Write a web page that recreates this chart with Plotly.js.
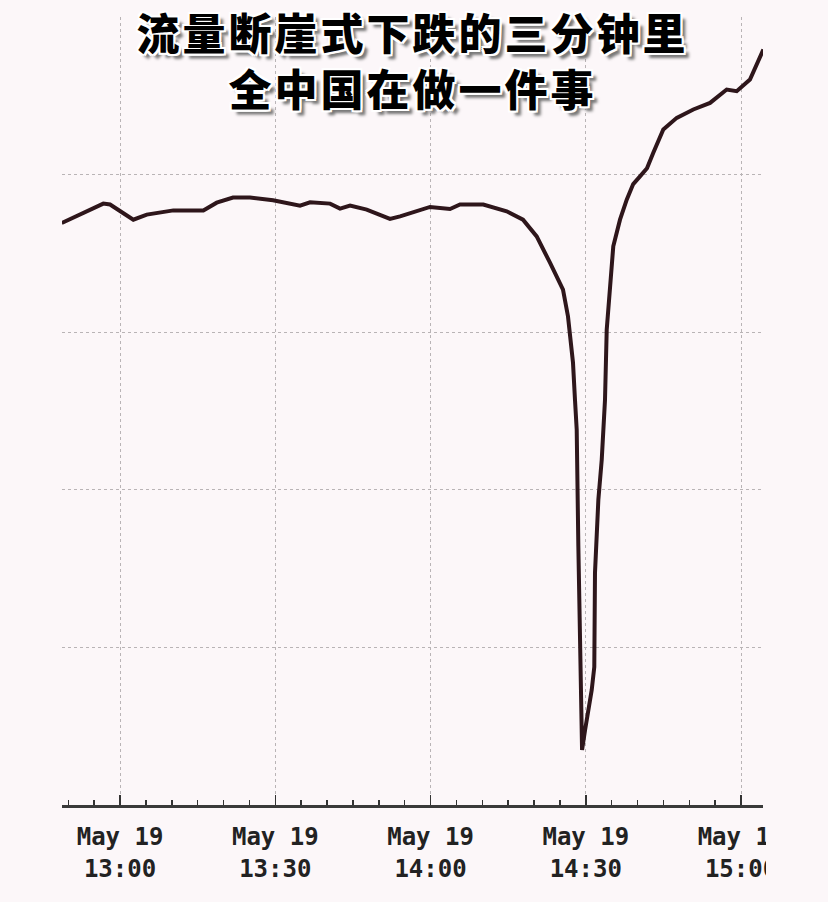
<!DOCTYPE html>
<html>
<head>
<meta charset="utf-8">
<script src="https://cdn.plot.ly/plotly-3.0.1.min.js"></script>
<style>html,body{margin:0;padding:0;background:#fcf7f9;}#chart{width:828px;height:902px;}.gtitle{letter-spacing:3px;}</style>
</head>
<body>
<div id="chart"></div>
<script>
var titleLine1 = "流量断崖式下跌的三分钟里";
var titleLine2 = "全中国在做一件事";

var times = [
  "2008-05-19 12:48:44","2008-05-19 12:52:16","2008-05-19 12:56:46","2008-05-19 12:58:04",
  "2008-05-19 13:02:34","2008-05-19 13:05:10","2008-05-19 13:10:18","2008-05-19 13:16:06",
  "2008-05-19 13:18:41","2008-05-19 13:21:50","2008-05-19 13:25:07","2008-05-19 13:29:34",
  "2008-05-19 13:34:47","2008-05-19 13:36:43","2008-05-19 13:40:35","2008-05-19 13:42:31",
  "2008-05-19 13:44:27","2008-05-19 13:47:40","2008-05-19 13:52:10","2008-05-19 13:54:07",
  "2008-05-19 13:57:20","2008-05-19 13:59:54","2008-05-19 14:03:46","2008-05-19 14:05:42",
  "2008-05-19 14:10:12","2008-05-19 14:14:43","2008-05-19 14:17:52","2008-05-19 14:20:31",
  "2008-05-19 14:23:05","2008-05-19 14:25:36","2008-05-19 14:26:34","2008-05-19 14:27:32",
  "2008-05-19 14:27:55","2008-05-19 14:28:15","2008-05-19 14:28:34","2008-05-19 14:28:53",
  "2008-05-19 14:29:13","2008-05-19 14:29:17","2008-05-19 14:29:52","2008-05-19 14:30:30",
  "2008-05-19 14:31:09","2008-05-19 14:31:39","2008-05-19 14:31:47","2008-05-19 14:32:26",
  "2008-05-19 14:33:05","2008-05-19 14:33:43","2008-05-19 14:34:03","2008-05-19 14:35:19",
  "2008-05-19 14:36:37","2008-05-19 14:37:55","2008-05-19 14:39:10","2008-05-19 14:40:29",
  "2008-05-19 14:41:50","2008-05-19 14:43:03","2008-05-19 14:44:59","2008-05-19 14:47:35",
  "2008-05-19 14:50:47","2008-05-19 14:54:01","2008-05-19 14:57:14","2008-05-19 14:59:10",
  "2008-05-19 15:01:44","2008-05-19 15:04:19"
];
var traffic = [
  3.693,3.746,3.816,3.810,
  3.714,3.746,3.773,3.773,
  3.822,3.854,3.854,3.837,
  3.803,3.824,3.816,3.784,
  3.803,3.778,3.719,3.735,
  3.767,3.795,3.782,3.810,
  3.810,3.767,3.714,3.608,
  3.441,3.270,3.100,2.806,
  2.571,2.381,1.640,1.092,
  0.457,0.349,0.476,0.603,
  0.730,0.876,1.473,1.937,
  2.190,2.571,3.016,3.545,
  3.714,3.841,3.940,3.989,
  4.040,4.138,4.286,4.360,
  4.413,4.455,4.540,4.529,
  4.603,4.794
];

var tickTimes = ["2008-05-19 13:00","2008-05-19 13:30","2008-05-19 14:00","2008-05-19 14:30","2008-05-19 15:00"];
var tickLabels = ["May 19<br>13:00","May 19<br>13:30","May 19<br>14:00","May 19<br>14:30","May 19<br>15:00"];

var bg = "#fcf7f9";
var titleShadow = "2px 2px 0 #fff, -2px -2px 0 #fff, 2px -2px 0 #fff, -2px 2px 0 #fff, 0 2px 0 #fff, 2px 0 0 #fff, -2px 0 0 #fff, 0 -2px 0 #fff, 5px 5px 3px #777";

var trace = {
  x: times, y: traffic, type: "scatter", mode: "lines",
  line: {color: "#2e161b", width: 4, shape: "linear"},
  hoverinfo: "skip"
};

var layout = {
  width: 828, height: 902,
  paper_bgcolor: bg, plot_bgcolor: bg,
  margin: {l: 62, r: 65, t: 17, b: 97},
  showlegend: false,
  title: {
    text: titleLine1 + "<br>" + titleLine2, x: 0.5, xanchor: "center", xref: "paper",
    y: 1 - 50/902, yanchor: "top", yref: "container",
    font: {family: "Noto Sans CJK SC", size: 43, weight: 900, color: "#000", shadow: titleShadow}
  },
  xaxis: {
    type: "date",
    range: ["2008-05-19 12:48:47", "2008-05-19 15:04:15"],
    tickmode: "array", tickvals: tickTimes, ticktext: tickLabels,
    ticks: "inside", ticklen: 10, tickwidth: 1.5, tickcolor: "#333",
    ticklabelstandoff: 9,
    tickfont: {family: "DejaVu Sans Mono", size: 24, weight: "bold", color: "#222"},
    showline: true, linecolor: "#3a3a3a", linewidth: 2.5,
    showgrid: true, gridcolor: "#b9b4b6", griddash: "dot", gridwidth: 1,
    zeroline: false, fixedrange: true,
    minor: {tickmode: "linear", tick0: "2008-05-19 13:00", dtick: 300000, ticks: "inside", ticklen: 5, tickcolor: "#333", tickwidth: 1.5, showgrid: false}
  },
  yaxis: {
    range: [0, 5], dtick: 1, tick0: 0,
    showticklabels: false, ticks: "",
    showgrid: true, gridcolor: "#b9b4b6", griddash: "dot", gridwidth: 1,
    zeroline: false, showline: false, fixedrange: true
  },
  shapes: [{
    type: "rect", xref: "paper", yref: "paper", layer: "above",
    x0: (766 - 62)/701, x1: (828 - 62)/701, y0: -97/788, y1: -8/788,
    fillcolor: bg, line: {width: 0}
  }]
};

Plotly.newPlot("chart", [trace], layout, {displayModeBar: false, staticPlot: true});
</script>
</body>
</html>
